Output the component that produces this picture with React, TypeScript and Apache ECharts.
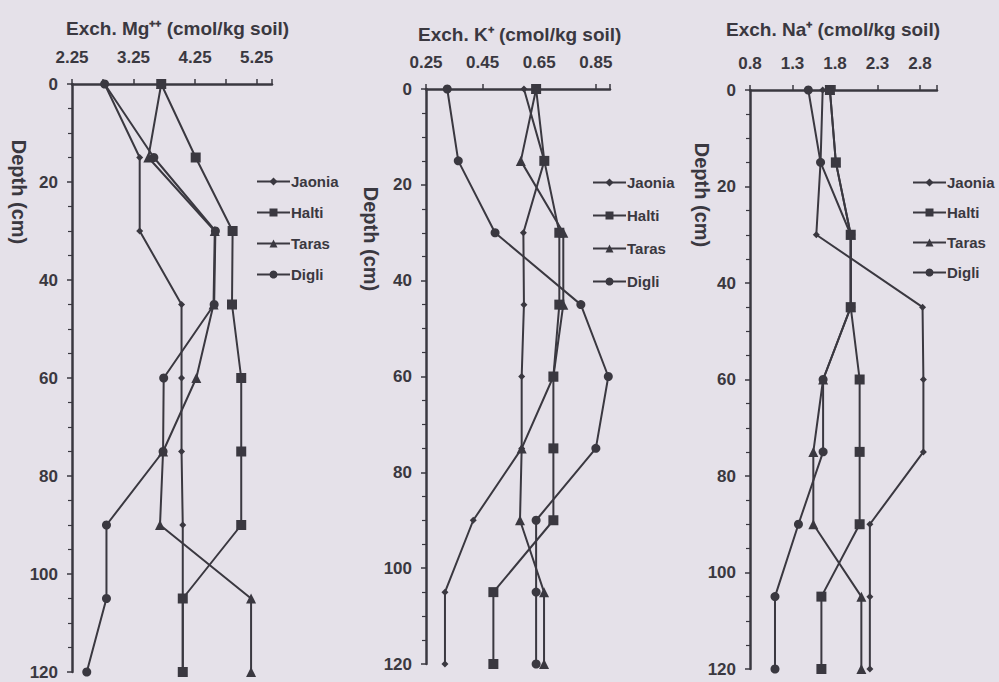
import React, { useEffect, useRef } from "react";
import * as echarts from "echarts";

const depths = [0, 15, 30, 45, 60, 75, 90, 105, 120];
const varieties = ["Jaonia", "Halti", "Taras", "Digli"];

// Exch. Mg++ (cmol/kg soil)
const mgJaonia = [2.78, 3.35, 3.35, 4.03, 4.03, 4.03, 4.05, 4.05, 4.05];
const mgHalti = [3.7, 4.26, 4.86, 4.85, 5.0, 5.0, 5.0, 4.05, 4.05];
const mgTaras = [3.7, 3.49, 4.57, 4.55, 4.27, 3.73, 3.68, 5.16, 5.16];
const mgDigli = [2.78, 3.58, 4.58, 4.56, 3.74, 3.73, 2.81, 2.81, 2.49];

// Exch. K+ (cmol/kg soil)
const kJaonia = [0.596, 0.668, 0.594, 0.596, 0.588, 0.588, 0.417, 0.317, 0.317];
const kHalti = [0.639, 0.668, 0.721, 0.721, 0.7, 0.7, 0.7, 0.488, 0.488];
const kTaras = [0.639, 0.585, 0.735, 0.735, 0.7, 0.588, 0.582, 0.667, 0.667];
const kDigli = [0.325, 0.364, 0.494, 0.797, 0.894, 0.85, 0.639, 0.639, 0.639];

// Exch. Na+ (cmol/kg soil)
const naJaonia = [1.655, 1.63, 1.58, 2.83, 2.84, 2.84, 2.21, 2.21, 2.21];
const naHalti = [1.74, 1.81, 1.985, 1.985, 2.09, 2.09, 2.09, 1.64, 1.64];
const naTaras = [1.74, 1.81, 1.985, 1.985, 1.66, 1.545, 1.545, 2.11, 2.11];
const naDigli = [1.486, 1.63, 1.985, 1.985, 1.66, 1.66, 1.37, 1.094, 1.094];

const mgTicks = ["2.25", "3.25", "4.25", "5.25"];
const kTicks = ["0.25", "0.45", "0.65", "0.85"];
const naTicks = ["0.8", "1.3", "1.8", "2.3", "2.8"];
const depthTicks = [0, 20, 40, 60, 80, 100, 120];

const titles = [
  "Exch. Mg\u207A\u207A (cmol/kg soil)",
  "Exch. K\u207A (cmol/kg soil)",
  "Exch. Na\u207A (cmol/kg soil)",
];

const INK = "#3a3840";
const FONT = "Liberation Sans, Arial, sans-serif";

const symbols: Record<string, [string, number]> = {
  Jaonia: ["diamond", 7],
  Halti: ["rect", 10],
  Taras: ["triangle", 10],
  Digli: ["circle", 9],
};

export default function App() {
  const ref = useRef<HTMLDivElement>(null);
  useEffect(() => {
    if (!ref.current) return;
    const chart = echarts.init(ref.current, undefined, { renderer: "svg" });

    const panels = [
      { vals: [mgJaonia, mgHalti, mgTaras, mgDigli], ticks: mgTicks, dec: 2, min: 2.25, max: 5.5, interval: 0.5 },
      { vals: [kJaonia, kHalti, kTaras, kDigli], ticks: kTicks, dec: 2, min: 0.25, max: 0.9, interval: 0.2 },
      { vals: [naJaonia, naHalti, naTaras, naDigli], ticks: naTicks, dec: 1, min: 0.8, max: 3.0, interval: 0.5 },
    ];
    const grids = [
      { left: 72, top: 84, width: 200, height: 588 },
      { left: 426, top: 89, width: 184, height: 575 },
      { left: 750, top: 90, width: 187, height: 579 },
    ];

    const series: any[] = [];
    panels.forEach((p, pi) => {
      p.vals.forEach((arr, vi) => {
        const name = varieties[vi];
        series.push({
          type: "line",
          name,
          xAxisIndex: pi,
          yAxisIndex: pi,
          data: arr.map((v, i) => [v, depths[i]]),
          symbol: symbols[name][0],
          symbolSize: symbols[name][1],
          lineStyle: { color: INK, width: 2 },
          itemStyle: { color: INK },
          z: 3,
        });
      });
    });

    const axisText = { color: INK, fontSize: 17, fontWeight: "bold" as const, fontFamily: FONT };

    const option: any = {
      animation: false,
      backgroundColor: "#e5e1e9",
      title: [
        { text: titles[0], left: 61, top: 14 },
        { text: titles[1], left: 413, top: 20 },
        { text: titles[2], left: 721, top: 15 },
      ].map((t) => ({
        ...t,
        textStyle: { color: INK, fontSize: 19, fontWeight: "bold", fontFamily: FONT },
      })),
      grid: grids.map((g) => ({ ...g, containLabel: false })),
      xAxis: panels.map((p, pi) => ({
        type: "value",
        gridIndex: pi,
        position: "top",
        min: p.min,
        max: p.max,
        interval: p.interval,
        axisLine: { show: true, onZero: false, lineStyle: { color: INK, width: 2.5 } },
        axisTick: { show: true, length: 5, lineStyle: { color: INK, width: 1.5 } },
        splitLine: { show: false },
        axisLabel: {
          ...axisText,
          margin: 18,
          showMaxLabel: true,
          formatter: (v: number) => {
            const s = v.toFixed(p.dec);
            return p.ticks.includes(s) ? s : "";
          },
        },
      })),
      yAxis: panels.map((p, pi) => ({
        type: "value",
        gridIndex: pi,
        inverse: true,
        min: depthTicks[0],
        max: depthTicks[depthTicks.length - 1],
        interval: 20,
        axisLine: { show: true, onZero: false, lineStyle: { color: INK, width: 2.5 } },
        axisTick: { show: true, length: 5, lineStyle: { color: INK, width: 1.5 } },
        minorTick: { show: true, splitNumber: 4, length: 4, lineStyle: { color: INK, width: 1.2 } },
        splitLine: { show: false },
        minorSplitLine: { show: false },
        axisLabel: { ...axisText, margin: 14 },
      })),
      legend: [
        { left: 256, top: 174, itemGap: 16 },
        { left: 592, top: 175, itemGap: 18 },
        { left: 912, top: 175, itemGap: 15 },
      ].map((l) => ({
        ...l,
        orient: "vertical",
        data: varieties,
        itemWidth: 33,
        itemHeight: 10,
        padding: 0,
        selectedMode: false,
        textStyle: { color: INK, fontSize: 15, fontWeight: "bold", fontFamily: FONT, padding: [0, 0, 0, -4] },
      })),
      graphic: [
        { x: 19, y: 192 },
        { x: 371, y: 239 },
        { x: 702, y: 195 },
      ].map((g) => ({
        type: "text",
        x: g.x,
        y: g.y,
        rotation: -Math.PI / 2,
        style: {
          text: "Depth (cm)",
          fill: INK,
          font: `bold 20px ${FONT}`,
          textAlign: "center",
          textVerticalAlign: "middle",
        },
      })),
      series,
    };

    chart.setOption(option);
    return () => chart.dispose();
  }, []);

  return (
    <div
      ref={ref}
      style={{ position: "absolute", left: 0, top: 0, width: 999, height: 682 }}
    />
  );
}
